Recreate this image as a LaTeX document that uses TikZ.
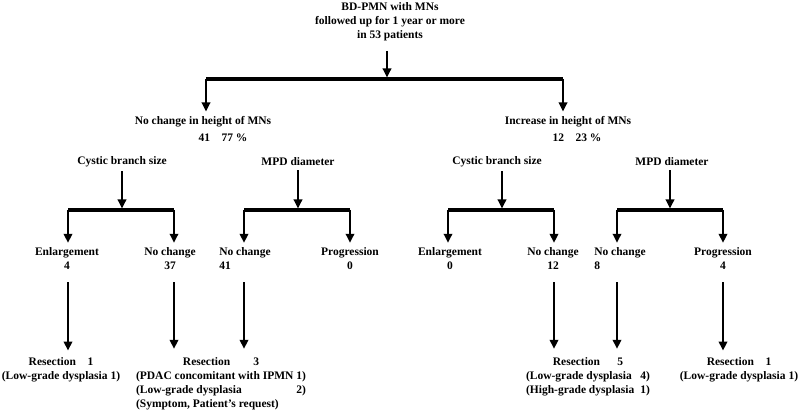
\documentclass[tikz,border=0pt]{standalone}
\usepackage{fontspec}
\setmainfont{Liberation Serif}
\usetikzlibrary{arrows.meta}
\tikzset{
	txt/.style={font=\fontsize{11.5}{14}\selectfont\bfseries, align=center, inner sep=0pt},
	arr/.style={line width=1.8pt, -{Triangle[width=8.5pt,length=9pt]}, shorten <=4pt, shorten >=5pt},
	bar/.style={line width=3.4pt},
}
\begin{document}
\begin{tikzpicture}[x=1pt, y=-1pt]
	\useasboundingbox[fill=white] (0, 0) rectangle (800, 411);
	\node[txt] (T)at(390, 21.5) {BD-PMN with MNs\\followed up for 1 year or more\\in 53 patients};
	\coordinate (J0)at(387, 79);
	\coordinate (J0L)at(206, 79);
	\coordinate (J0R)at(563, 79);
	\node[txt] (NC)at(203, 122) {No change in height of MNs};
	\node[txt] (NCn)at(223, 138) {41\quad 77 \%};
	\node[txt] (IN)at(568, 122) {Increase in height of MNs};
	\node[txt] (INn)at(577, 138) {12\quad 23 \%};
	\node[txt] (CB1)at(122, 162) {Cystic branch size};
	\node[txt] (MP1)at(298, 162) {MPD diameter};
	\node[txt] (CB2)at(497, 162) {Cystic branch size};
	\node[txt] (MP2)at(672, 162) {MPD diameter};
	\coordinate (J1)at(122, 210);
	\coordinate (J1L)at(68, 210);
	\coordinate (J1R)at(174, 210);
	\coordinate (J2)at(298, 210);
	\coordinate (J2L)at(244, 210);
	\coordinate (J2R)at(350, 210);
	\coordinate (J3)at(502, 210);
	\coordinate (J3L)at(448, 210);
	\coordinate (J3R)at(554, 210);
	\coordinate (J4)at(670, 210);
	\coordinate (J4L)at(617, 210);
	\coordinate (J4R)at(723, 210);
	\node[txt] (E1)at(67, 259) {Enlargement\\4};
	\node[txt] (N1)at(170, 259) {No change\\37};
	\node[txt, align=left] (N2)at(245, 259) {No change\\41};
	\node[txt] (P1)at(350, 259) {Progression\\0};
	\node[txt] (E2)at(450, 259) {Enlargement\\0};
	\node[txt] (N3)at(553, 259) {No change\\12};
	\node[txt, align=left] (N4)at(620, 259) {No change\\8};
	\node[txt] (P2)at(723, 259) {Progression\\4};
	\node[txt] (R1)at(61, 370) {Resection\quad 1\\(Low-grade dysplasia 1)};
	\node[txt] (R3)at(221, 384) {\begin{tabular}{@{}l@{\ }r@{}}
		\multicolumn{2}{@{}c@{}}{Resection\qquad 3}\\
		(PDAC concomitant with IPMN & 1)\\
		(Low-grade dysplasia & 2)\\
		\multicolumn{2}{@{}l@{}}{(Symptom, Patient's request)}
	\end{tabular}};
	\node[txt] (R5)at(588, 377) {\begin{tabular}{@{}l@{\hspace{6pt}}r@{}}
		\multicolumn{2}{@{}c@{}}{Resection\quad\enspace 5}\\
		(Low-grade dysplasia & 4)\\
		(High-grade dysplasia & 1)
	\end{tabular}};
	\node[txt] (R6)at(739, 370) {Resection\quad 1\\(Low-grade dysplasia 1)};
	\draw[arr, shorten <=10pt, shorten >=1.5pt] (T.south -| J0) -- (J0);
	\draw[bar] (J0L) -- (J0R);
	\draw[arr, shorten <=0pt] (J0L) -- (J0L |- NC.north);
	\draw[arr, shorten <=0pt] (J0R) -- (J0R |- IN.north);
	\draw[arr, shorten >=1.5pt] (CB1.south -| J1) -- (J1);
	\draw[arr, shorten >=1.5pt] (MP1.south -| J2) -- (J2);
	\draw[arr, shorten >=1.5pt] (CB2.south -| J3) -- (J3);
	\draw[arr, shorten >=1.5pt] (MP2.south -| J4) -- (J4);
	\draw[bar] (J1L) -- (J1R);
	\draw[bar] (J2L) -- (J2R);
	\draw[bar] (J3L) -- (J3R);
	\draw[bar] (J4L) -- (J4R);
	\draw[arr, shorten <=0pt] (J1L) -- (J1L |- E1.north);
	\draw[arr, shorten <=0pt] (J1R) -- (J1R |- N1.north);
	\draw[arr, shorten <=0pt] (J2L) -- (J2L |- N2.north);
	\draw[arr, shorten <=0pt] (J2R) -- (J2R |- P1.north);
	\draw[arr, shorten <=0pt] (J3L) -- (J3L |- E2.north);
	\draw[arr, shorten <=0pt] (J3R) -- (J3R |- N3.north);
	\draw[arr, shorten <=0pt] (J4L) -- (J4L |- N4.north);
	\draw[arr, shorten <=0pt] (J4R) -- (J4R |- P2.north);
	\draw[arr, shorten <=12pt, shorten >=7pt] (E1.south -| J1L) -- (J1L |- R1.north);
	\draw[arr, shorten <=12pt, shorten >=7pt] (N1.south -| J1R) -- (J1R |- R3.north);
	\draw[arr, shorten <=12pt, shorten >=7pt] (N2.south -| J2L) -- (J2L |- R3.north);
	\draw[arr, shorten <=12pt, shorten >=7pt] (N3.south -| J3R) -- (J3R |- R5.north);
	\draw[arr, shorten <=12pt, shorten >=7pt] (N4.south -| J4L) -- (J4L |- R5.north);
	\draw[arr, shorten <=12pt, shorten >=7pt] (P2.south -| J4R) -- (J4R |- R6.north);
\end{tikzpicture}
\end{document}
